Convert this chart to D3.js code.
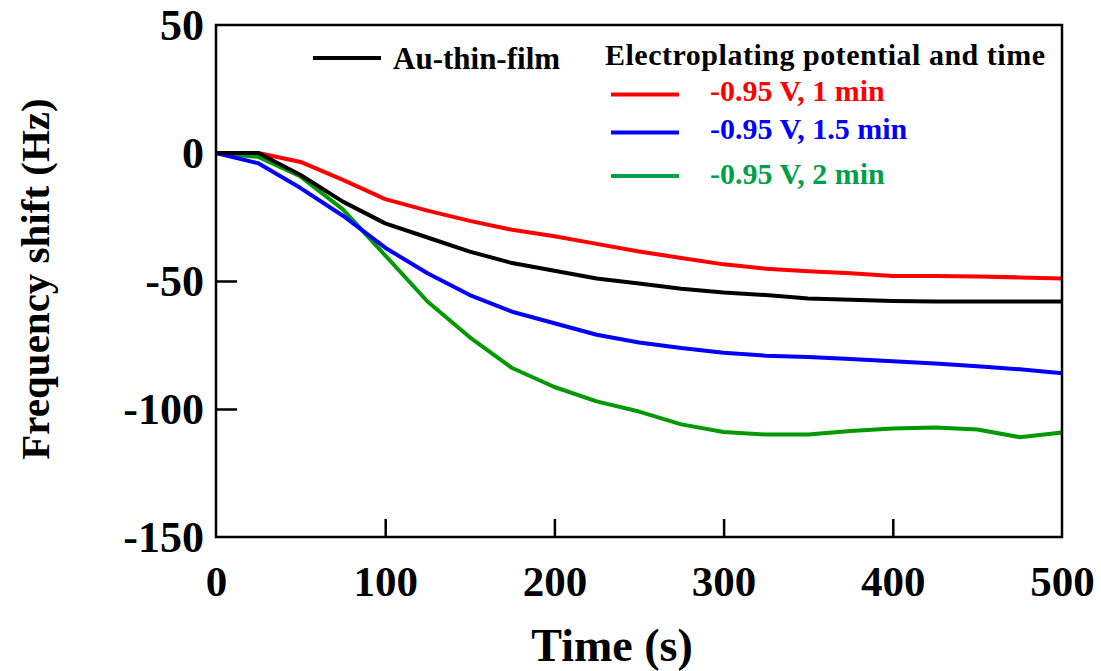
<!DOCTYPE html>
<html>
<head>
<meta charset="utf-8">
<script src="https://cdn.jsdelivr.net/npm/d3@7"></script>
<style>
  html, body { margin: 0; padding: 0; background: #fff; }
  svg { display: block; }
  text { font-family: "Liberation Serif", "Times New Roman", serif; font-weight: bold; }
</style>
</head>
<body>
<svg id="chart" width="1101" height="671"></svg>
<script>
// Sampling times (s)
const times = [0, 25, 50, 75, 100, 125, 150, 175, 200, 225, 250, 275, 300, 325, 350, 375, 400, 425, 450, 475, 500];

// Frequency shift (Hz) for each electrode
const auThinFilm = [0, 0, -8.6, -19, -27.5, -33, -38.5, -43, -46, -49, -51, -53, -54.5, -55.5, -56.8, -57.3, -57.8, -58, -58, -58, -58];
const v095_1min  = [0, 0, -3.5, -10.5, -18, -22.5, -26.5, -30, -32.5, -35.5, -38.5, -41, -43.5, -45.2, -46.2, -47, -48, -48, -48.2, -48.6, -49];
const v095_15min = [0, -4, -13.7, -24.5, -37, -47, -55.5, -62, -66.5, -71, -74, -76.2, -78, -79.2, -79.7, -80.5, -81.3, -82.2, -83.3, -84.5, -86];
const v095_2min  = [0, -1.5, -9.2, -22, -40, -58, -72, -84, -91.4, -97, -101, -106, -109, -110, -110, -108.6, -107.6, -107.2, -108, -111, -109.2];

const xTicks = [0, 100, 200, 300, 400, 500];
const yTicks = [50, 0, -50, -100, -150];

const seriesNames = ["Au-thin-film", "-0.95 V, 1 min", "-0.95 V, 1.5 min", "-0.95 V, 2 min"];
const seriesData = [auThinFilm, v095_1min, v095_15min, v095_2min];
const lineColors = ["#000000", "#ff0000", "#0000ff", "#009a00"];
const labelColors = ["#000000", "#ff0000", "#0000ff", "#00a04a"];
const legendTitle = "Electroplating potential and time";

const svg = d3.select("#chart");
const m = { left: 216, right: 1062, top: 25, bottom: 537 };

const x = d3.scaleLinear().domain([0, 500]).range([m.left, m.right]);
const y = d3.scaleLinear().domain([-150, 50]).range([m.bottom, m.top]);

// Series lines
const line = d3.line().x(d => x(d[0])).y(d => y(d[1]));
const plot = svg.append("g");
// draw in reverse so the black curve sits over the others where they overlap
[3, 2, 1, 0].forEach(i => {
  plot.append("path")
    .datum(times.map((t, k) => [t, seriesData[i][k]]))
    .attr("fill", "none")
    .attr("stroke", lineColors[i])
    .attr("stroke-width", 4)
    .attr("stroke-linejoin", "round")
    .attr("d", line);
});

// Frame
svg.append("rect")
  .attr("x", m.left).attr("y", m.top)
  .attr("width", m.right - m.left).attr("height", m.bottom - m.top)
  .attr("fill", "none").attr("stroke", "#000").attr("stroke-width", 2.5);

// Axes with inward ticks; labels use a plain hyphen for negatives
const plainNum = d => String(d);
const xAxis = d3.axisBottom(x).tickValues(xTicks).tickSizeInner(-18).tickSizeOuter(0).tickPadding(28).tickFormat(plainNum);
const gx = svg.append("g").attr("transform", `translate(0,${m.bottom})`).call(xAxis);
gx.select(".domain").remove();
gx.selectAll(".tick line").attr("stroke", "#000").attr("stroke-width", 2.5)
  .filter(d => d === 0 || d === 500).remove();
gx.selectAll(".tick text").attr("font-size", 43).attr("fill", "#000")
  .attr("font-family", "Liberation Serif, Times New Roman, serif").attr("font-weight", "bold");

const yAxis = d3.axisLeft(y).tickValues(yTicks).tickSizeInner(-21).tickSizeOuter(0).tickPadding(12).tickFormat(plainNum);
const gy = svg.append("g").attr("transform", `translate(${m.left},0)`).call(yAxis);
gy.select(".domain").remove();
gy.selectAll(".tick line").attr("stroke", "#000").attr("stroke-width", 2.5)
  .filter(d => d === 50 || d === -150).remove();
gy.selectAll(".tick text").attr("font-size", 44).attr("fill", "#000")
  .attr("font-family", "Liberation Serif, Times New Roman, serif").attr("font-weight", "bold");

// Axis titles
svg.append("text")
  .attr("x", 612).attr("y", 661)
  .attr("text-anchor", "middle").attr("font-size", 46)
  .text("Time (s)");
svg.append("text")
  .attr("transform", "translate(49,279) rotate(-90)")
  .attr("text-anchor", "middle").attr("font-size", 41)
  .text("Frequency shift (Hz)");

// Legend
const legend = svg.append("g");
legend.append("line")
  .attr("x1", 313).attr("x2", 381).attr("y1", 58).attr("y2", 58)
  .attr("stroke", lineColors[0]).attr("stroke-width", 4);
legend.append("text")
  .attr("x", 393).attr("y", 69).attr("font-size", 31).attr("fill", labelColors[0])
  .text(seriesNames[0]);

legend.append("text")
  .attr("x", 605).attr("y", 65).attr("font-size", 30).attr("fill", "#000")
  .attr("textLength", 440)
  .text(legendTitle);

const legendRows = [
  { i: 1, ly: 94.5, ty: 101 },
  { i: 2, ly: 132.5, ty: 139 },
  { i: 3, ly: 176, ty: 184 }
];
legendRows.forEach(r => {
  legend.append("line")
    .attr("x1", 611).attr("x2", 679).attr("y1", r.ly).attr("y2", r.ly)
    .attr("stroke", labelColors[r.i]).attr("stroke-width", 4);
  legend.append("text")
    .attr("x", 710).attr("y", r.ty).attr("font-size", 30).attr("fill", labelColors[r.i])
    .text(seriesNames[r.i]);
});
</script>
</body>
</html>
